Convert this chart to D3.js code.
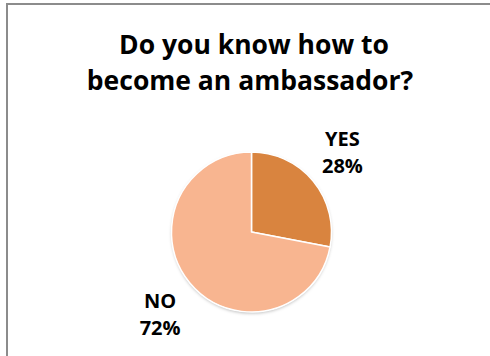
<!DOCTYPE html>
<html>
<head>
<meta charset="utf-8">
<script src="https://cdn.jsdelivr.net/npm/d3@7"></script>
<style>
  html, body { margin: 0; padding: 0; background: #fff; }
  svg { display: block; }
</style>
</head>
<body>
<svg id="chart" width="490" height="356"></svg>
<script>
// Survey answers and their shares (percent)
const categories = ["YES", "NO"];
const shares = [28, 72];
const sliceColors = ["#D9843F", "#F8B590"];
const titleLines = ["Do you know how to", "become an ambassador?"];

const width = 490, height = 356;
const svg = d3.select("#chart");
const font = "'Open Sans', Lato, sans-serif";

// chart frame
svg.append("rect")
  .attr("x", 7).attr("y", 4)
  .attr("width", width + 10).attr("height", height + 10)
  .attr("fill", "#fff")
  .attr("stroke", "#8c8c8c")
  .attr("stroke-width", 2);

// title
svg.append("g").selectAll("text")
  .data(titleLines)
  .join("text")
  .attr("x", (d, i) => i === 0 ? 254 : 250)
  .attr("y", (d, i) => 54 + i * 36)
  .attr("text-anchor", "middle")
  .attr("font-family", font)
  .attr("font-weight", 700)
  .attr("font-size", 26.5)
  .attr("fill", "#000")
  .text(d => d);

// soft shadow under the pie
const defs = svg.append("defs");
const f = defs.append("filter").attr("id", "shadow")
  .attr("x", "-20%").attr("y", "-20%").attr("width", "140%").attr("height", "140%");
f.append("feDropShadow")
  .attr("dx", 0).attr("dy", 1.5).attr("stdDeviation", 1.5)
  .attr("flood-color", "#000").attr("flood-opacity", 0.25);

const cx = 251.5, cy = 232, r = 80;
const data = categories.map((c, i) => ({ cat: c, value: shares[i], color: sliceColors[i] }));

const pie = d3.pie().value(d => d.value).sort(null);
const arc = d3.arc().innerRadius(0).outerRadius(r);
const arcs = pie(data);

const g = svg.append("g").attr("transform", `translate(${cx},${cy})`);
g.append("circle").attr("r", r).attr("fill", "#fff").attr("filter", "url(#shadow)");
g.selectAll("path")
  .data(arcs)
  .join("path")
  .attr("d", arc)
  .attr("fill", d => d.data.color)
  .attr("stroke", "#fff")
  .attr("stroke-width", 1.5)
  .attr("stroke-linejoin", "round");

// data labels placed outside the slices
const labelArc = d3.arc().innerRadius(r * 1.45).outerRadius(r * 1.45);
const labelOffsets = { YES: [1.5, -12], NO: [-2, 2] };
const labels = svg.append("g").selectAll("g")
  .data(arcs)
  .join("g")
  .attr("transform", d => {
    const [x, y] = labelArc.centroid(d);
    const [ox, oy] = labelOffsets[d.data.cat];
    return `translate(${cx + x + ox},${cy + y + oy})`;
  });

labels.each(function(d) {
  const sel = d3.select(this);
  const pct = Math.round((d.endAngle - d.startAngle) / (2 * Math.PI) * 100) + "%";
  sel.append("text").attr("y", 0).text(d.data.cat);
  sel.append("text").attr("y", 27).text(pct);
});
labels.selectAll("text")
  .attr("text-anchor", "middle")
  .attr("font-family", font)
  .attr("font-weight", 700)
  .attr("font-size", 20)
  .attr("fill", "#000");
</script>
</body>
</html>
